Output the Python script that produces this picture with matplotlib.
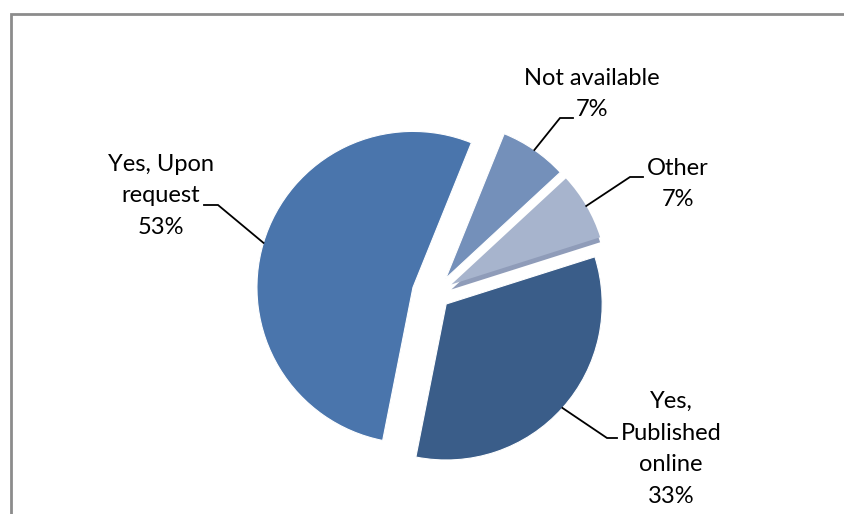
import numpy as np
import matplotlib
matplotlib.use("Agg")
import matplotlib.pyplot as plt
from matplotlib.patches import Rectangle, Wedge

# slices in clockwise order, starting just right of 12 o'clock
labels = ["Not available", "Other", "Yes,\nPublished\nonline", "Yes, Upon\nrequest"]
shares = [7, 7, 33, 53]
colors = ["#7490BA", "#A7B4CD", "#3A5D89", "#4A75AC"]
explode = [19, 19, 15, 23]  # pixels, since the axes are in pixel units

# label layout: text centre, elbow of leader line, end of the short horizontal
label_xy = [(592, 94), (678, 184), (671, 449), (161, 196)]
elbow_xy = [(560, 118), (630, 177), (607, 438), (218, 205)]
hend_x = [573, 643, 617, 204]

W, H = 844, 514
fig = plt.figure(figsize=(W / 100, H / 100), dpi=100)
ax = fig.add_axes([0, 0, 1, 1])
ax.set_xlim(0, W)
ax.set_ylim(H, 0)
ax.set_aspect("equal")
ax.axis("off")

# chart border (only left and top edges fall inside the image)
fig.patches.append(Rectangle((11, -20), 900, 514 - 14 + 20, transform=None,
                             fill=False, edgecolor="#8C8C8C", linewidth=2))

wedges, _ = ax.pie(shares, colors=colors, explode=explode, radius=156,
                   center=(435, 294), startangle=-(90 - 22), counterclock=True,
                   wedgeprops=dict(edgecolor="white", linewidth=0.8),
                   frame=True)

# thin 3-D side visible under the "Other" slice
w = wedges[1]
w.set_edgecolor("none")
side = Wedge((w.center[0], w.center[1] + 5), w.r, w.theta1, w.theta2,
             facecolor="#8F9CB9", edgecolor="none", zorder=w.get_zorder() - 0.1)
ax.add_patch(side)

for w, lab, val, (tx, ty), (ex, ey), hx in zip(wedges, labels, shares,
                                               label_xy, elbow_xy, hend_x):
    th = np.deg2rad((w.theta1 + w.theta2) / 2)
    cx, cy = w.center
    px = cx + w.r * np.cos(th)
    py = cy + w.r * np.sin(th)
    ax.plot([px, ex, hx], [py, ey, ey], color="black", linewidth=1.3,
            solid_joinstyle="miter")
    ax.text(tx, ty, f"{lab}\n{val}%", ha="center", va="center",
            fontsize=17, linespacing=1.62, family=["Lato", "DejaVu Sans"])

ax.set_xlim(0, W)
ax.set_ylim(H, 0)
fig.savefig("out.png", dpi=100)
